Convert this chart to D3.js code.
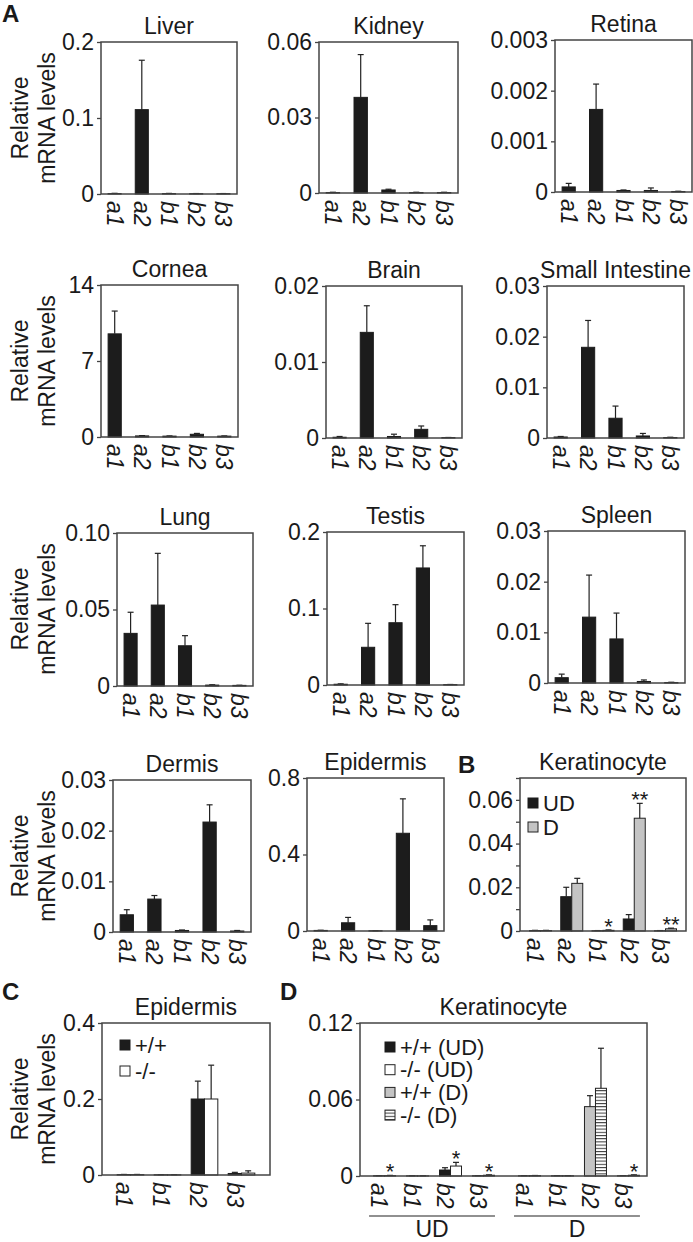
<!DOCTYPE html>
<html><head><meta charset="utf-8">
<script src="https://cdn.jsdelivr.net/npm/d3@7/dist/d3.min.js"></script>
<style>
body{margin:0;background:#fff;}
text{font-family:"Liberation Sans",Arial,sans-serif;fill:#1a1a1a;}
</style></head>
<body>
<svg id="fig" width="693" height="1242"></svg>
<script>
// ---------------- DATA ----------------
const genes = ["a1","a2","b1","b2","b3"];
const liverMean = [0.0005, 0.111, 0.0005, 0.0004, 0.0004];
const liverErr  = [0.0004, 0.065, 0.0003, 0.0002, 0.0002];
const kidneyMean = [0.0002, 0.038, 0.0012, 0.0002, 0.0002];
const kidneyErr  = [0.0001, 0.017, 0.0003, 0.0001, 0.0001];
const retinaMean = [0.0001, 0.00163, 0.00003, 0.00003, 0.00001];
const retinaErr  = [0.00007, 0.0005, 0.00001, 0.00005, 0.000005];
const corneaMean = [9.5, 0.1, 0.08, 0.25, 0.08];
const corneaErr  = [2.1, 0.03, 0.02, 0.08, 0.02];
const brainMean = [0.0001, 0.0139, 0.0002, 0.00114, 0.00005];
const brainErr  = [0.0001, 0.0035, 0.0003, 0.00044, 0.00002];
const siMean = [0.0002, 0.0179, 0.0039, 0.0004, 0.0001];
const siErr  = [0.0001, 0.0053, 0.0024, 0.0005, 0.00005];
const lungMean = [0.0344, 0.0529, 0.0263, 0.0006, 0.0004];
const lungErr  = [0.0138, 0.0338, 0.0066, 0.0002, 0.0001];
const testisMean = [0.001, 0.0493, 0.0814, 0.153, 0.0005];
const testisErr  = [0.0005, 0.0313, 0.0236, 0.029, 0.0002];
const spleenMean = [0.00105, 0.013, 0.0087, 0.0003, 0.0001];
const spleenErr  = [0.0007, 0.0083, 0.0051, 0.0003, 0.00005];
const dermisMean = [0.0034, 0.0065, 0.0003, 0.0217, 0.0002];
const dermisErr  = [0.001, 0.0007, 0.0001, 0.0034, 0.0001];
const epidermisMean = [0.003, 0.043, 0.001, 0.511, 0.028];
const epidermisErr  = [0.001, 0.028, 0.0005, 0.18, 0.03];

// B: keratinocyte UD / D
const kerUD    = [0.0002, 0.0157, 0.0001, 0.0055, 0.0001];
const kerUDErr = [0.0001, 0.0043, 0.0001, 0.002, 0.0001];
const kerD     = [0.0002, 0.0218, 0.0003, 0.0516, 0.001];
const kerDErr  = [0.0001, 0.0023, 0.0002, 0.0068, 0.0003];
const kerDSig  = ["", "", "*", "**", "**"];

// C: epidermis +/+ vs -/-
const cGenes = ["a1","b1","b2","b3"];
const cWT    = [0.001, 0.0005, 0.2, 0.004];
const cWTErr = [0.0005, 0.0003, 0.047, 0.003];
const cKO    = [0.001, 0.0005, 0.2, 0.005];
const cKOErr = [0.0005, 0.0003, 0.089, 0.006];

// D: keratinocyte genotype x differentiation
const dConds = ["UD","D"];
const dGenes = ["a1","b1","b2","b3"];
const dUDwt = [0.0002, 0.0001, 0.0047, 0.0002];
const dUDwtErr = [0.0001, 0.0001, 0.0018, 0.0001];
const dUDko = [0.0003, 0.0001, 0.0078, 0.0006];
const dUDkoErr = [0.0002, 0.0001, 0.0029, 0.0003];
const dDwt = [0.0002, 0.0002, 0.0544, 0.0002];
const dDwtErr = [0.0001, 0.0001, 0.0086, 0.0001];
const dDko = [0.0003, 0.0002, 0.0688, 0.0006];
const dDkoErr = [0.0001, 0.0001, 0.0314, 0.0003];
const dUDSig = ["*", "", "*", "*"];
const dDSig = ["", "", "", "*"];

// tick values / labels
const liverTicks = [0, 0.1, 0.2], liverLabels = ["0","0.1","0.2"];
const kidneyTicks = [0, 0.03, 0.06], kidneyLabels = ["0","0.03","0.06"];
const retinaTicks = [0, 0.001, 0.002, 0.003], retinaLabels = ["0","0.001","0.002","0.003"];
const corneaTicks = [0, 7, 14], corneaLabels = ["0","7","14"];
const brainTicks = [0, 0.01, 0.02], brainLabels = ["0","0.01","0.02"];
const siTicks = [0, 0.01, 0.02, 0.03], siLabels = ["0","0.01","0.02","0.03"];
const lungTicks = [0, 0.05, 0.10], lungLabels = ["0","0.05","0.10"];
const testisTicks = [0, 0.1, 0.2], testisLabels = ["0","0.1","0.2"];
const spleenTicks = [0, 0.01, 0.02, 0.03], spleenLabels = ["0","0.01","0.02","0.03"];
const dermisTicks = [0, 0.01, 0.02, 0.03], dermisLabels = ["0","0.01","0.02","0.03"];
const epiTicks = [0, 0.4, 0.8], epiLabels = ["0","0.4","0.8"];
const kerTicks = [0, 0.01, 0.02, 0.03, 0.04, 0.05, 0.06, 0.07], kerLabels = ["0","","0.02","","0.04","","0.06",""];
const cTicks = [0, 0.2, 0.4], cLabels = ["0","0.2","0.4"];
const dTicks = [0, 0.06, 0.12], dLabels = ["0","0.06","0.12"];

// ---------------- DRAWING ----------------
const svg = d3.select("#fig");
const FONT = 23;
const BAR = "#1c1c1c", GREY = "#c4c4c4", FRAME = "#444";

const defs = svg.append("defs");
const pat = defs.append("pattern").attr("id","hstripe").attr("patternUnits","userSpaceOnUse")
  .attr("width",4).attr("height",3.2);
pat.append("rect").attr("width",4).attr("height",3.2).attr("fill","#fff");
pat.append("rect").attr("y",0).attr("width",4).attr("height",1).attr("fill","#333");

const STYLES = {
  black: {fill: BAR, stroke: BAR},
  grey:  {fill: GREY, stroke: "#222"},
  white: {fill: "#fff", stroke: "#222"},
  stripe:{fill: "url(#hstripe)", stroke: "#222"}
};

function frame(g, w, h){
  g.append("rect").attr("x",0).attr("y",0).attr("width",w).attr("height",h)
    .attr("fill","none").attr("stroke",FRAME).attr("stroke-width",1.5);
}

function yAxis(g, y, ticks, labels){
  const ax = g.append("g").call(d3.axisLeft(y).tickValues(ticks)
    .tickFormat((d,i)=>labels[i]).tickSize(4).tickPadding(3).tickSizeOuter(0));
  ax.select(".domain").remove();
  ax.selectAll("line").attr("stroke",FRAME).attr("stroke-width",1.3);
  ax.selectAll("text").attr("font-size",FONT).attr("font-family",'"Liberation Sans",Arial,sans-serif').attr("fill","#1a1a1a");
}

function title(g, w, t){
  g.append("text").attr("x",w/2).attr("y",-8).attr("text-anchor","middle")
    .attr("font-size",FONT).text(t);
}

function xLabel(g, x, h, t){
  g.append("text").attr("transform",`translate(${x},${h+7}) rotate(90)`)
    .attr("dominant-baseline","central").attr("font-size",FONT).attr("font-style","italic").text(t);
}

function bars(g, xs, bw, y, mean, err, style, sig){
  mean.forEach((v,i)=>{
    const x = xs[i];
    const st = STYLES[style];
    g.append("rect").attr("x",x).attr("y",y(v)).attr("width",bw).attr("height",y(0)-y(v))
      .attr("fill",st.fill).attr("stroke",st.stroke).attr("stroke-width",1);
    const top = y(v+err[i]);
    g.append("line").attr("x1",x+bw/2).attr("x2",x+bw/2).attr("y1",y(v)).attr("y2",top)
      .attr("stroke","#222").attr("stroke-width",1.2);
    g.append("line").attr("x1",x+bw/2-3).attr("x2",x+bw/2+3).attr("y1",top).attr("y2",top)
      .attr("stroke","#222").attr("stroke-width",1.2);
    if (sig && sig[i]) {
      g.append("text").attr("x",x+bw/2).attr("y",top+4).attr("text-anchor","middle")
        .attr("font-size",22).text(sig[i]);
    }
  });
}

function yTitle(yc){
  [["Relative",28],["mRNA levels",55]].forEach(([t,x])=>{
    svg.append("text").attr("transform",`translate(${x},${yc}) rotate(-90)`)
      .attr("text-anchor","middle").attr("font-size",FONT).text(t);
  });
}

function singlePanel(L, name, max, mean, err, ticks, labels){
  const g = svg.append("g").attr("transform",`translate(${L.x},${L.y})`);
  const y = d3.scaleLinear().domain([0,max]).range([L.h,0]);
  const x = d3.scaleBand().domain(genes).range([0,L.w]);
  const xi = d3.scaleBand().domain([0]).range([0,x.bandwidth()]).paddingOuter(0.54);
  bars(g, genes.map(c=>x(c)+xi(0)), xi.bandwidth(), y, mean, err, "black");
  frame(g, L.w, L.h);
  yAxis(g, y, ticks, labels);
  title(g, L.w, name);
  genes.forEach(c=>xLabel(g, x(c)+x.bandwidth()/2, L.h, c));
}

// Panel A
singlePanel({x:101,y:42,w:136,h:152}, "Liver", 0.2, liverMean, liverErr, liverTicks, liverLabels);
singlePanel({x:319,y:42,w:139,h:151}, "Kidney", 0.06, kidneyMean, kidneyErr, kidneyTicks, kidneyLabels);
singlePanel({x:555,y:40,w:137,h:152}, "Retina", 0.003, retinaMean, retinaErr, retinaTicks, retinaLabels);
singlePanel({x:101,y:285,w:137,h:152}, "Cornea", 14, corneaMean, corneaErr, corneaTicks, corneaLabels);
singlePanel({x:326,y:286,w:136,h:152}, "Brain", 0.02, brainMean, brainErr, brainTicks, brainLabels);
singlePanel({x:547,y:286,w:137,h:152}, "Small Intestine", 0.03, siMean, siErr, siTicks, siLabels);
singlePanel({x:117,y:533,w:136,h:153}, "Lung", 0.10, lungMean, lungErr, lungTicks, lungLabels);
singlePanel({x:327,y:532,w:137,h:153}, "Testis", 0.2, testisMean, testisErr, testisTicks, testisLabels);
singlePanel({x:548,y:531,w:137,h:152}, "Spleen", 0.03, spleenMean, spleenErr, spleenTicks, spleenLabels);
singlePanel({x:113,y:780,w:138,h:152}, "Dermis", 0.03, dermisMean, dermisErr, dermisTicks, dermisLabels);
singlePanel({x:307,y:778,w:137,h:153}, "Epidermis", 0.8, epidermisMean, epidermisErr, epiTicks, epiLabels);

yTitle(118); yTitle(361); yTitle(609); yTitle(856); yTitle(1099);

function legend(g, x, y0, dy, items){
  items.forEach(([t,style],i)=>{
    const st = STYLES[style];
    g.append("rect").attr("x",x).attr("y",y0+i*dy-5).attr("width",10).attr("height",10)
      .attr("fill",st.fill).attr("stroke",st.stroke).attr("stroke-width",1);
    g.append("text").attr("x",x+15).attr("y",y0+i*dy).attr("dominant-baseline","central")
      .attr("font-size",22).text(t);
  });
}

// Panel B
(function(){
  const L = {x:520,y:778,w:166,h:153};
  const g = svg.append("g").attr("transform",`translate(${L.x},${L.y})`);
  const y = d3.scaleLinear().domain([0,0.07]).range([L.h,0]);
  const x = d3.scaleBand().domain(genes).range([0,L.w]).paddingOuter(0.156);
  const xi = d3.scaleBand().domain([0,1]).range([0,x.bandwidth()]).paddingOuter(0.42);
  bars(g, genes.map(c=>x(c)+xi(0)), xi.bandwidth(), y, kerUD, kerUDErr, "black");
  bars(g, genes.map(c=>x(c)+xi(1)), xi.bandwidth(), y, kerD, kerDErr, "grey", kerDSig);
  frame(g, L.w, L.h);
  yAxis(g, y, kerTicks, kerLabels);
  title(g, L.w, "Keratinocyte");
  genes.forEach(c=>xLabel(g, x(c)+xi(0)+xi.bandwidth()/2, L.h, c));
  legend(g, 8, 25, 24, [["UD","black"],["D","grey"]]);
})();

// Panel C
(function(){
  const L = {x:102,y:1023,w:168,h:152};
  const g = svg.append("g").attr("transform",`translate(${L.x},${L.y})`);
  const y = d3.scaleLinear().domain([0,0.4]).range([L.h,0]);
  const x = d3.scaleBand().domain(cGenes).range([0,L.w]).paddingOuter(0.27);
  const xi = d3.scaleBand().domain([0,1]).range([0,x.bandwidth()]).paddingOuter(0.39);
  bars(g, cGenes.map(c=>x(c)+xi(0)), xi.bandwidth(), y, cWT, cWTErr, "black");
  bars(g, cGenes.map(c=>x(c)+xi(1)), xi.bandwidth(), y, cKO, cKOErr, "white");
  frame(g, L.w, L.h);
  yAxis(g, y, cTicks, cLabels);
  title(g, L.w, "Epidermis");
  cGenes.forEach(c=>xLabel(g, x(c)+xi(0)+xi.bandwidth()/2, L.h, c));
  legend(g, 18, 22, 26, [["+/+","black"],["-/-","white"]]);
})();

// Panel D
(function(){
  const L = {x:360,y:1023,w:287,h:153};
  const g = svg.append("g").attr("transform",`translate(${L.x},${L.y})`);
  const y = d3.scaleLinear().domain([0,0.12]).range([L.h,0]);
  const xo = d3.scaleBand().domain(dConds).range([3,L.w+3]).paddingInner(0.09).paddingOuter(0.035);
  const x = d3.scaleBand().domain(dGenes).range([0,xo.bandwidth()]);
  const xi = d3.scaleBand().domain([0,1]).range([0,x.bandwidth()]).paddingOuter(0.5);
  const sets = {UD:[[dUDwt,dUDwtErr,"black",null],[dUDko,dUDkoErr,"white",dUDSig]],
                D:[[dDwt,dDwtErr,"grey",null],[dDko,dDkoErr,"stripe",dDSig]]};
  dConds.forEach(cond=>{
    sets[cond].forEach(([m,e,st,sig],k)=>{
      bars(g, dGenes.map(c=>xo(cond)+x(c)+xi(k)), xi.bandwidth(), y, m, e, st, sig);
    });
    dGenes.forEach(c=>xLabel(g, xo(cond)+x(c)+xi(0)+xi.bandwidth()/2, L.h, c));
    const gx0 = xo(cond)+1, gx1 = xo(cond)+xo.bandwidth()-5;
    g.append("line").attr("x1",gx0).attr("x2",gx1).attr("y1",L.h+40).attr("y2",L.h+40)
      .attr("stroke","#222").attr("stroke-width",1.2);
    g.append("text").attr("x",(gx0+gx1)/2).attr("y",L.h+61).attr("text-anchor","middle")
      .attr("font-size",FONT).text(cond);
  });
  frame(g, L.w, L.h);
  yAxis(g, y, dTicks, dLabels);
  title(g, L.w, "Keratinocyte");
  legend(g, 25, 24, 22.7, [["+/+ (UD)","black"],["-/- (UD)","white"],["+/+ (D)","grey"],["-/- (D)","stripe"]]);
})();

// Panel letters
[["A",2,22],["B",458,773],["C",2,1000],["D",280,1000]].forEach(([t,x,y])=>{
  svg.append("text").attr("x",x).attr("y",y).attr("font-size",24).attr("font-weight","bold").text(t);
});
</script>
</body></html>
